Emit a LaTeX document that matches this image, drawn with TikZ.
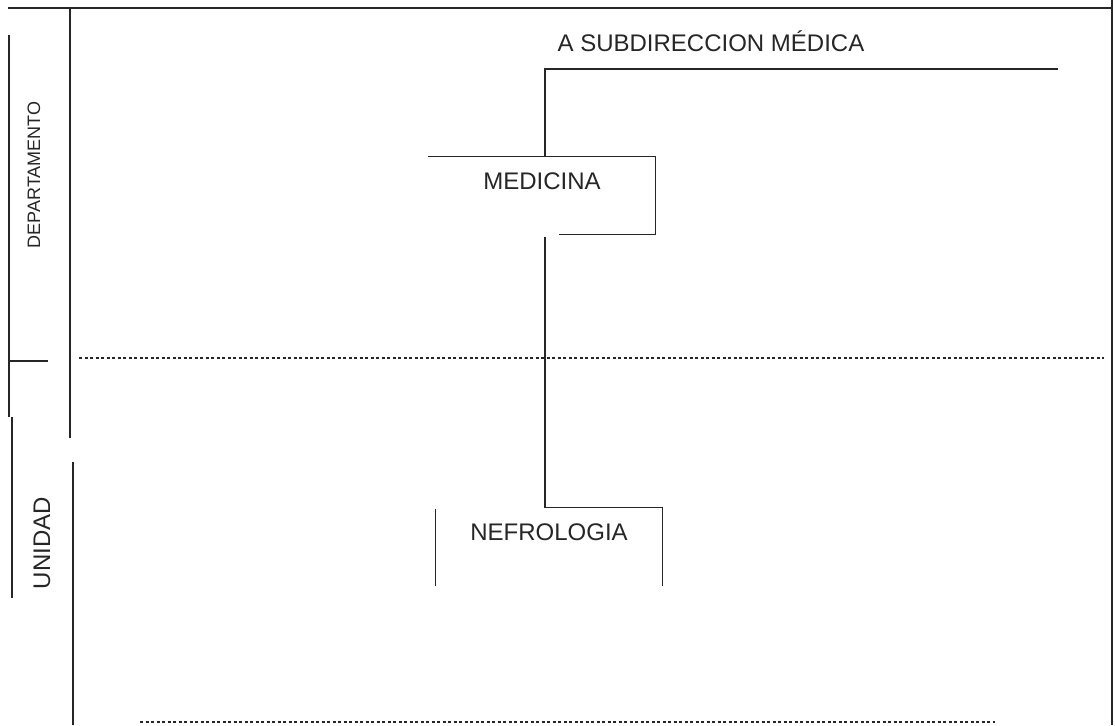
\documentclass[tikz,border=0pt]{standalone}
\usepackage{fontspec}
\setmainfont{Liberation Sans}

\begin{document}
\begin{tikzpicture}[x=1pt,y=-1pt,line width=1.3pt,black!85,
  lbl/.style={inner sep=0pt,font=\fontsize{24}{28}\selectfont},
  caja/.style={lbl,minimum width=226pt,minimum height=77pt,
    text height=32pt,text depth=45pt},
  puntos/.style={line width=1.7pt,dash pattern=on 3pt off 2.5pt}]

\useasboundingbox (0,0) rectangle (1115,725);

% рамка
\draw (8,8) -- (1112,8);
\draw (1112,0) -- (1112,725);
\draw (70,8) -- (70,438);
\draw (73,462) -- (73,725);
\draw (9,35) -- (9,417);
\draw (12,417) -- (12,598);
\draw (10,361) -- (48,361);

% пунктир
\draw[puntos] (79,358) -- (1104,358);
\draw[puntos] (140,722) -- (995,722);

% подписи слева
\node[lbl,rotate=90,font=\fontsize{18}{21}\selectfont] (depto) at (34,175) {DEPARTAMENTO};
\node[lbl,rotate=90] (unidad) at (42,543) {UNIDAD};

% блоки
\node[lbl,anchor=base west] (subdir) at (557,52) {A SUBDIRECCION MÉDICA};
\coordinate (sub) at (545,69);
\coordinate (subfin) at (1058,69);
\node[caja] (med) at (542,195.5) {MEDICINA};
\node[caja] (nef) at (549,546.5) {NEFROLOGIA};

% линии
\draw (subfin) -- (sub) -- (sub |- med.north);
\draw (med.north west) -- (med.north east) -- (med.south east)
  -- ([xshift=-97pt]med.south east);
\draw ([yshift=-2pt]med.south -| sub) -- (nef.north -| sub)
  -- (nef.north east) -- (nef.south east);
\draw ([yshift=-2pt]nef.north west) -- (nef.south west);

\end{tikzpicture}
\end{document}
